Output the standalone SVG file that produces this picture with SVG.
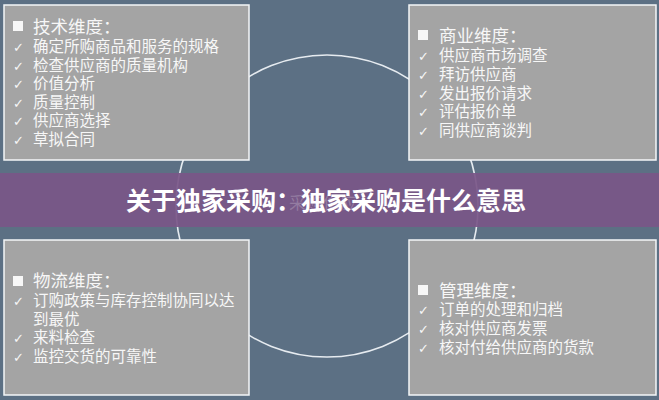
<svg xmlns="http://www.w3.org/2000/svg" width="659" height="400" viewBox="0 0 659 400">
<style>
.box{fill:#a4a4a4;stroke:#f4f6f8;stroke-width:1.5}
.t{font-family:"Liberation Sans","Noto Sans CJK SC",sans-serif;font-size:15.5px;fill:#f7f7f7}
.h{font-family:"Liberation Sans","Noto Sans CJK SC",sans-serif;font-size:17.5px;fill:#f7f7f7}
.ck{font-family:"DejaVu Sans",sans-serif;font-size:13px;fill:#f7f7f7}
.sq{fill:#f7f7f7}
.title{font-family:"Noto Sans CJK SC",sans-serif;font-size:25px;font-weight:bold;fill:#ffffff}
</style>
<rect x="0" y="0" width="659" height="400" fill="#5c7084"/>
<g id="connectors">
<circle cx="327" cy="206" r="151" fill="none" stroke="#e6ebf0" stroke-width="1.6"/>
</g>
<g id="band">
<rect x="0" y="173" width="659" height="54" fill="#7a5688" fill-opacity="0.93"/>
<text x="323" y="209" text-anchor="middle" font-family="Noto Sans CJK SC,sans-serif" font-size="17" fill="#ffffff" fill-opacity="0.22">采购供应</text>
<text class="title" x="326" y="210" text-anchor="middle">关于独家采购：独家采购是什么意思</text>
</g>
<g id="tech">
<rect class="box" x="4" y="5" width="245" height="155"/>
<rect class="sq" x="13" y="21" width="10" height="10"/>
<text class="h" x="33" y="33">技术维度：</text>
<text class="ck" x="13" y="52">✓</text><text class="t" x="33" y="52">确定所购商品和服务的规格</text>
<text class="ck" x="13" y="71">✓</text><text class="t" x="33" y="71">检查供应商的质量机构</text>
<text class="ck" x="13" y="89">✓</text><text class="t" x="33" y="89">价值分析</text>
<text class="ck" x="13" y="108">✓</text><text class="t" x="33" y="108">质量控制</text>
<text class="ck" x="13" y="126">✓</text><text class="t" x="33" y="126">供应商选择</text>
<text class="ck" x="13" y="145">✓</text><text class="t" x="33" y="145">草拟合同</text>
</g>
<g id="business">
<rect class="box" x="409" y="5" width="247" height="155"/>
<rect class="sq" x="418" y="30" width="10" height="10"/>
<text class="h" x="439" y="42">商业维度：</text>
<text class="ck" x="418" y="61">✓</text><text class="t" x="439" y="61">供应商市场调查</text>
<text class="ck" x="418" y="80">✓</text><text class="t" x="439" y="80">拜访供应商</text>
<text class="ck" x="418" y="99">✓</text><text class="t" x="439" y="99">发出报价请求</text>
<text class="ck" x="418" y="117">✓</text><text class="t" x="439" y="117">评估报价单</text>
<text class="ck" x="418" y="136">✓</text><text class="t" x="439" y="136">同供应商谈判</text>
</g>
<g id="logistics">
<rect class="box" x="4" y="240" width="245" height="155"/>
<rect class="sq" x="13" y="276" width="10" height="10"/>
<text class="h" x="33" y="287">物流维度：</text>
<text class="ck" x="13" y="306">✓</text><text class="t" x="33" y="306">订购政策与库存控制协同以达</text>
<text class="t" x="33" y="325">到最优</text>
<text class="ck" x="13" y="343">✓</text><text class="t" x="33" y="343">来料检查</text>
<text class="ck" x="13" y="362">✓</text><text class="t" x="33" y="362">监控交货的可靠性</text>
</g>
<g id="management">
<rect class="box" x="409" y="240" width="247" height="155"/>
<rect class="sq" x="418" y="285" width="10" height="10"/>
<text class="h" x="439" y="297">管理维度：</text>
<text class="ck" x="418" y="315">✓</text><text class="t" x="439" y="315">订单的处理和归档</text>
<text class="ck" x="418" y="334">✓</text><text class="t" x="439" y="334">核对供应商发票</text>
<text class="ck" x="418" y="353">✓</text><text class="t" x="439" y="353">核对付给供应商的货款</text>
</g>
</svg>
